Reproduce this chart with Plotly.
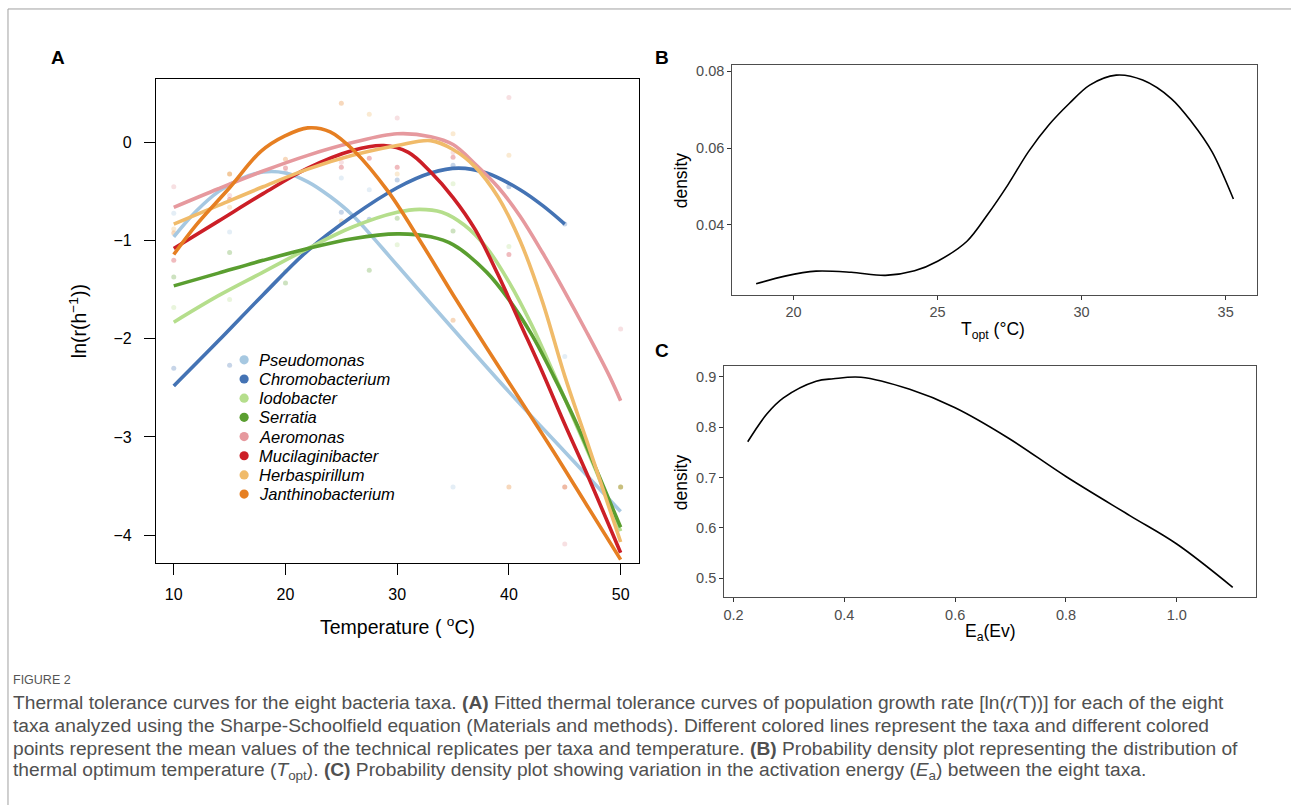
import plotly.graph_objects as go

W, H = 1291, 805

# ---------------- data ----------------
TAXA = ["Pseudomonas", "Chromobacterium", "Iodobacter", "Serratia",
        "Aeromonas", "Mucilaginibacter", "Herbaspirillum", "Janthinobacterium"]
COLORS = ["#A6C8E1", "#4473B4", "#B5DE8C", "#5A9E30",
          "#E6999E", "#CC1F27", "#F0BB6A", "#E67F22"]

# fitted thermal tolerance curves
PSEUDO_T = [10, 12, 14, 16, 18, 20, 22, 24, 26, 30, 35, 40, 45, 50]
PSEUDO_FIT = [-0.96, -0.70, -0.50, -0.37, -0.30, -0.31, -0.40, -0.55, -0.74, -1.25, -1.90, -2.54, -3.15, -3.76]
CHROMO_T = [10, 14, 18, 22, 26, 30, 33, 35.5, 38, 41, 43, 45]
CHROMO_FIT = [-2.48, -2.02, -1.55, -1.10, -0.75, -0.46, -0.31, -0.26, -0.31, -0.48, -0.64, -0.83]
IODO_T = [10, 14, 18, 22, 26, 30, 32, 34, 36, 38, 40, 42, 44, 46, 48, 50]
IODO_FIT = [-1.83, -1.56, -1.32, -1.08, -0.86, -0.71, -0.68, -0.71, -0.84, -1.07, -1.42, -1.85, -2.35, -2.87, -3.40, -3.96]
SERR_T = [10, 14, 18, 22, 26, 30, 33, 35, 38, 40, 42, 44, 46, 48, 50]
SERR_FIT = [-1.46, -1.33, -1.20, -1.08, -0.98, -0.93, -0.96, -1.04, -1.32, -1.60, -1.95, -2.38, -2.85, -3.38, -3.92]
AERO_T = [10, 14, 18, 22, 26, 30, 33, 35, 37, 39, 41, 43, 45, 47, 49, 50]
AERO_FIT = [-0.66, -0.47, -0.29, -0.13, 0.0, 0.09, 0.06, -0.02, -0.22, -0.45, -0.75, -1.12, -1.52, -1.94, -2.38, -2.63]
MUCI_T = [10, 14, 18, 22, 26, 28.8, 31, 33, 35, 37, 39, 41, 43, 45, 47, 50]
MUCI_FIT = [-1.08, -0.80, -0.52, -0.26, -0.08, -0.03, -0.10, -0.30, -0.56, -0.89, -1.34, -1.84, -2.34, -2.87, -3.38, -4.18]
HERB_T = [10, 14, 18, 22, 26, 30, 33, 35, 37, 39, 41, 43, 45, 47, 50]
HERB_FIT = [-0.83, -0.64, -0.45, -0.27, -0.13, -0.03, 0.02, -0.07, -0.25, -0.55, -1.00, -1.62, -2.38, -3.05, -4.07]
JANT_T = [10, 12, 15, 17.8, 20, 22, 24, 26.2, 29.2, 32.1, 35, 38, 41, 44, 47, 50]
JANT_FIT = [-1.14, -0.84, -0.46, -0.09, 0.07, 0.15, 0.11, -0.09, -0.50, -1.01, -1.55, -2.09, -2.62, -3.15, -3.70, -4.25]

# mean values of technical replicates (faint points)
PSEUDO_PT_T = [10, 15, 25, 27.5, 35, 45]
PSEUDO_PT_V = [-0.72, -0.91, -0.36, -0.48, -3.51, -2.18]
CHROMO_PT_T = [10, 15, 25, 27.5, 30, 35, 40, 45]
CHROMO_PT_V = [-2.30, -2.27, -0.71, -0.78, -0.38, -0.23, -0.45, -0.83]
IODO_PT_T = [10, 15, 20, 30, 35, 40, 50]
IODO_PT_V = [-1.68, -1.60, -1.31, -1.04, -0.42, -1.06, -3.51]
SERR_PT_T = [10, 15, 20, 27.5, 30, 35, 50]
SERR_PT_V = [-1.37, -1.12, -1.43, -1.30, -0.77, -0.90, -3.51]
AERO_PT_T = [10, 15, 20, 25, 30, 35, 40, 45, 50]
AERO_PT_V = [-0.45, -0.54, -0.30, -0.20, 0.25, -0.10, 0.46, -4.09, -1.90]
MUCI_PT_T = [10, 15, 20, 25, 27.5, 30, 35, 40, 45]
MUCI_PT_V = [-1.20, -0.58, -0.26, -0.25, -0.16, -0.25, -0.15, -1.14, -3.51]
HERB_PT_T = [10, 15, 15, 25, 27.5, 30, 35, 40, 45]
HERB_PT_V = [-0.88, -0.32, -0.66, -0.80, 0.29, -0.32, 0.09, -0.13, -3.51]
JANT_PT_T = [10, 15, 20, 25, 35, 40, 50]
JANT_PT_V = [-0.92, -0.32, -0.17, 0.40, -1.81, -3.51, -3.51]

FIT_T = [PSEUDO_T, CHROMO_T, IODO_T, SERR_T, AERO_T, MUCI_T, HERB_T, JANT_T]
FIT_V = [PSEUDO_FIT, CHROMO_FIT, IODO_FIT, SERR_FIT, AERO_FIT, MUCI_FIT, HERB_FIT, JANT_FIT]
PT_T = [PSEUDO_PT_T, CHROMO_PT_T, IODO_PT_T, SERR_PT_T, AERO_PT_T, MUCI_PT_T, HERB_PT_T, JANT_PT_T]
PT_V = [PSEUDO_PT_V, CHROMO_PT_V, IODO_PT_V, SERR_PT_V, AERO_PT_V, MUCI_PT_V, HERB_PT_V, JANT_PT_V]

A_XTICKS = [10, 20, 30, 40, 50]
A_YTICKS = [-4, -3, -2, -1, 0]

# density of thermal optimum (B)
TOPT_X = [18.70, 19.7, 20.78, 22.0, 23.19, 24.2, 25.00, 26.02, 26.73, 27.44, 28.15, 28.86,
          29.57, 30.28, 31.2, 32.12, 33.11, 33.82, 34.53, 35.27]
TOPT_D = [0.0246, 0.0266, 0.0279, 0.0276, 0.0268, 0.0280, 0.0305, 0.0357, 0.0426, 0.0504, 0.0590, 0.0660,
          0.0716, 0.0764, 0.0790, 0.0777, 0.0729, 0.0668, 0.0590, 0.0467]
B_XTICKS = [20, 25, 30, 35]
B_YTICKS = [0.04, 0.06, 0.08]

# density of activation energy (C)
EA_X = [0.2256, 0.26, 0.290, 0.349, 0.38, 0.430, 0.518, 0.599, 0.695, 0.800, 0.916, 1.000, 1.101]
EA_D = [0.771, 0.826, 0.858, 0.891, 0.896, 0.899, 0.875, 0.839, 0.779, 0.702, 0.624, 0.568, 0.482]
C_XTICKS = [0.2, 0.4, 0.6, 0.8, 1.0]
C_YTICKS = [0.5, 0.6, 0.7, 0.8, 0.9]


def px(x):
    return x / W


def py(y):
    return 1 - y / H


fig = go.Figure()

# panel A
for i, name in enumerate(TAXA):
    fig.add_trace(go.Scatter(x=PT_T[i], y=PT_V[i], mode="markers",
                             marker=dict(color=COLORS[i], size=5, opacity=0.3),
                             showlegend=False, hoverinfo="skip", xaxis="x", yaxis="y"))
for i, name in enumerate(TAXA):
    fig.add_trace(go.Scatter(x=FIT_T[i], y=FIT_V[i], mode="lines", name=name,
                             line=dict(color=COLORS[i], width=3.6, shape="spline", smoothing=1.0),
                             showlegend=False, xaxis="x", yaxis="y"))

# panel B and C
fig.add_trace(go.Scatter(x=TOPT_X, y=TOPT_D, mode="lines",
                         line=dict(color="black", width=1.6, shape="spline", smoothing=0.9),
                         showlegend=False, xaxis="x2", yaxis="y2"))
fig.add_trace(go.Scatter(x=EA_X, y=EA_D, mode="lines",
                         line=dict(color="black", width=1.6, shape="spline", smoothing=1.0),
                         showlegend=False, xaxis="x3", yaxis="y3"))

FONT = "Liberation Sans, Arial, Helvetica, sans-serif"

axA = dict(showline=True, mirror=True, linecolor="black", linewidth=1,
           ticks="outside", ticklen=11, tickcolor="black", tickwidth=1,
           showgrid=False, zeroline=False, tickfont=dict(family=FONT, size=16, color="black"))
axG = dict(showline=True, mirror=True, linecolor="#4D4D4D", linewidth=1,
           ticks="outside", ticklen=4, tickcolor="#333333", tickwidth=1,
           showgrid=False, zeroline=False, tickfont=dict(family=FONT, size=14.5, color="#4D4D4D"))

fig.update_layout(
    width=W, height=H, margin=dict(l=0, r=0, t=0, b=0),
    paper_bgcolor="white", plot_bgcolor="white", showlegend=False,
    font=dict(family=FONT, color="black"),
    xaxis=dict(axA, domain=[px(155), px(638)], range=[8.4, 51.6], tickvals=A_XTICKS,
               anchor="y", ticklabelstandoff=6),
    yaxis=dict(axA, domain=[py(562), py(77)], range=[-4.28, 0.65], tickvals=A_YTICKS,
               anchor="x", ticklabelstandoff=9),
    xaxis2=dict(axG, domain=[px(731.8), px(1257)], range=[17.87, 36.09], tickvals=B_XTICKS,
                anchor="y2"),
    yaxis2=dict(axG, domain=[py(293.3), py(63.3)], range=[0.0218, 0.0816], tickvals=B_YTICKS,
                tickformat=".2f", anchor="x2"),
    xaxis3=dict(axG, domain=[px(723.7), px(1256.3)], range=[0.183, 1.1436], tickvals=C_XTICKS,
                tickformat=".1f", anchor="y3"),
    yaxis3=dict(axG, domain=[py(596.7), py(365)], range=[0.4624, 0.9212], tickvals=C_YTICKS,
                tickformat=".1f", anchor="x3"),
)

ann = []
shapes = []

# manual legend for panel A
LEG_X, LEG_Y0, LEG_DY = 243.3, 358.7, 19.23
for i, name in enumerate(TAXA):
    yy = LEG_Y0 + i * LEG_DY
    shapes.append(dict(type="circle", xref="paper", yref="paper",
                       x0=px(LEG_X - 4.6), x1=px(LEG_X + 4.6), y0=py(yy + 4.6), y1=py(yy - 4.6),
                       fillcolor=COLORS[i], line=dict(width=0)))
    ann.append(dict(text="<i>%s</i>" % name, x=px(LEG_X + 13), y=py(yy), xref="paper", yref="paper",
                    xanchor="left", yanchor="middle", showarrow=False,
                    font=dict(family=FONT, size=16.5, color="black")))

# axis titles
ann += [
    dict(text="Temperature ( <sup>o</sup>C)", x=px(397), y=py(626), xanchor="center", yanchor="middle",
         font=dict(family=FONT, size=19.5, color="black")),
    dict(text="ln(r(h<sup>\u22121</sup>))", x=px(77), y=py(320), xanchor="center", yanchor="middle",
         textangle=-90, font=dict(family=FONT, size=19.5, color="black")),
    dict(text="density", x=px(680), y=py(178.3), xanchor="center", yanchor="middle", textangle=-90,
         font=dict(family=FONT, size=17.5, color="black")),
    dict(text="T<sub>opt</sub> (\u00b0C)", x=px(993), y=py(329), xanchor="center", yanchor="middle",
         font=dict(family=FONT, size=17.5, color="black")),
    dict(text="density", x=px(680), y=py(481), xanchor="center", yanchor="middle", textangle=-90,
         font=dict(family=FONT, size=17.5, color="black")),
    dict(text="E<sub>a</sub>(Ev)", x=px(990), y=py(632), xanchor="center", yanchor="middle",
         font=dict(family=FONT, size=17.5, color="black")),
]

# panel letters
for letter, (lx, ly) in zip(["A", "B", "C"], [(57, 56), (662, 56), (662, 349)]):
    ann.append(dict(text="<b>%s</b>" % letter, x=px(lx), y=py(ly), xanchor="center", yanchor="middle",
                    font=dict(family=FONT, size=19, color="black")))

# caption
CAPTION = [
    "Thermal tolerance curves for the eight bacteria taxa. <b>(A)</b> Fitted thermal tolerance curves of population growth rate [ln(<i>r</i>(T))] for each of the eight",
    "taxa analyzed using the Sharpe-Schoolfield equation (Materials and methods). Different colored lines represent the taxa and different colored",
    "points represent the mean values of the technical replicates per taxa and temperature. <b>(B)</b> Probability density plot representing the distribution of",
    "thermal optimum temperature (<i>T</i><sub>opt</sub>). <b>(C)</b> Probability density plot showing variation in the activation energy (<i>E</i><sub>a</sub>) between the eight taxa.",
]
ann.append(dict(text="FIGURE 2", x=px(10), y=py(680), xanchor="left", yanchor="middle",
                font=dict(family=FONT, size=12.5, color="#555555")))
for k, line in enumerate(CAPTION):
    ann.append(dict(text=line, x=px(10), y=py(702 + 23 * k), xanchor="left", yanchor="middle",
                    font=dict(family=FONT, size=19.2, color="#505050")))

for a in ann:
    a.setdefault("xref", "paper")
    a.setdefault("yref", "paper")
    a.setdefault("showarrow", False)

# page frame lines
shapes.append(dict(type="line", xref="paper", yref="paper", x0=px(7), x1=1, y0=py(7), y1=py(7),
                   line=dict(color="#A0A0A0", width=1)))
shapes.append(dict(type="line", xref="paper", yref="paper", x0=px(7), x1=px(7), y0=py(7), y1=0,
                   line=dict(color="#A0A0A0", width=1)))

fig.update_layout(annotations=ann, shapes=shapes)

fig.write_html("out.html", config={"displayModeBar": False},
               post_script="document.body.style.margin='0';document.body.style.overflow='hidden';")
